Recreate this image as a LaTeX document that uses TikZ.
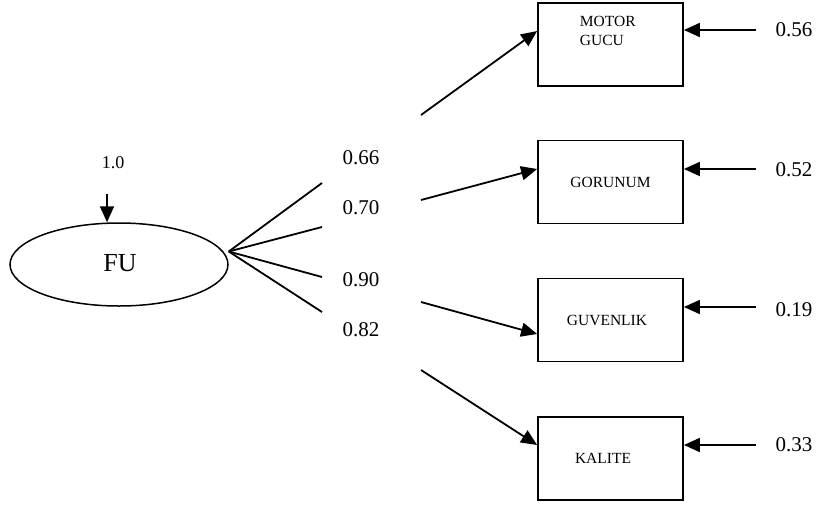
\documentclass[tikz,border=0pt]{standalone}
\usepackage{fontspec}
\setmainfont{Liberation Serif}
\usetikzlibrary{arrows.meta,shapes.geometric}
\begin{document}
\begin{tikzpicture}[x=1pt,y=-1pt,
  every path/.style={line width=1.8pt},
  obs/.style={draw, line width=1.8pt, minimum width=145pt, minimum height=83pt, inner sep=0pt, font=\fontsize{15.5}{17}\selectfont},
  lat/.style={draw, ellipse, line width=1.5pt, minimum width=218pt, minimum height=83pt, inner sep=0pt, font=\fontsize{26}{28}\selectfont},
  coef/.style={font=\fontsize{21}{24}\selectfont, inner sep=0pt},
  arr/.style={-{Triangle[length=16pt,width=14pt]}}]
\useasboundingbox (0,0) rectangle (816,504);
% latent factor
\node[lat] (fu) at (119,264.5) {};
\node[font=\fontsize{26}{28}\selectfont, inner sep=0pt] (fut) at (120,263) {FU};
% observed indicators
\node[obs] (m) at (610.5,44.5) {};
\node[anchor=north west, align=left, inner sep=0pt, font=\fontsize{15.5}{19}\selectfont] (mt) at (579,15) {MOTOR\\GUCU};
\node[obs] (g) at (610.5,182) {GORUNUM};
\node[obs] (s) at (610.5,320) {\hspace*{-7pt}GUVENLIK};
\node[obs] (k) at (610.5,458.5) {\hspace*{-15pt}KALITE};
% variance of the factor
\node[font=\fontsize{18}{20}\selectfont, inner sep=0pt] (v) at (113,163) {1.0};
\coordinate (vs) at (107,194);
\draw[arr] (vs) -- ([xshift=-12pt]fu.north);
% loadings fanning out of the factor
\coordinate (fan) at ([yshift=13pt]fu.east);
\coordinate (f1) at (322,183);
\coordinate (f2) at (322,227);
\coordinate (f3) at (322,277);
\coordinate (f4) at (322,312);
\draw (fan) -- (f1);
\draw (fan) -- (f2);
\draw (fan) -- (f3);
\draw (fan) -- (f4);
\node[coef] (l1) at (361,158) {0.66};
\node[coef] (l2) at (361,208) {0.70};
\node[coef] (l3) at (361,280) {0.90};
\node[coef] (l4) at (361,330) {0.82};
% arrows into the indicators
\coordinate (a1) at (421,115);
\coordinate (a2) at (421,200);
\coordinate (a3) at (421,302);
\coordinate (a4) at (421,370);
\draw[arr] (a1) -- ([yshift=13.5pt]m.west);
\draw[arr] (a2) -- ([yshift=13pt]g.west);
\draw[arr] (a3) -- ([yshift=-14pt]s.west);
\draw[arr] (a4) -- ([yshift=13.5pt]k.west);
% error terms
\coordinate (e1) at (756,30);
\coordinate (e2) at (756,169);
\coordinate (e3) at (756,307);
\coordinate (e4) at (756,445);
\draw[arr] (e1) -- ([yshift=14.5pt]m.east);
\draw[arr] (e2) -- ([yshift=13pt]g.east);
\draw[arr] (e3) -- ([yshift=13pt]s.east);
\draw[arr] (e4) -- ([yshift=13.5pt]k.east);
\node[coef] (r1) at (794,30) {0.56};
\node[coef] (r2) at (794,170) {0.52};
\node[coef] (r3) at (794,310) {0.19};
\node[coef] (r4) at (794,445) {0.33};
\end{tikzpicture}
\end{document}
